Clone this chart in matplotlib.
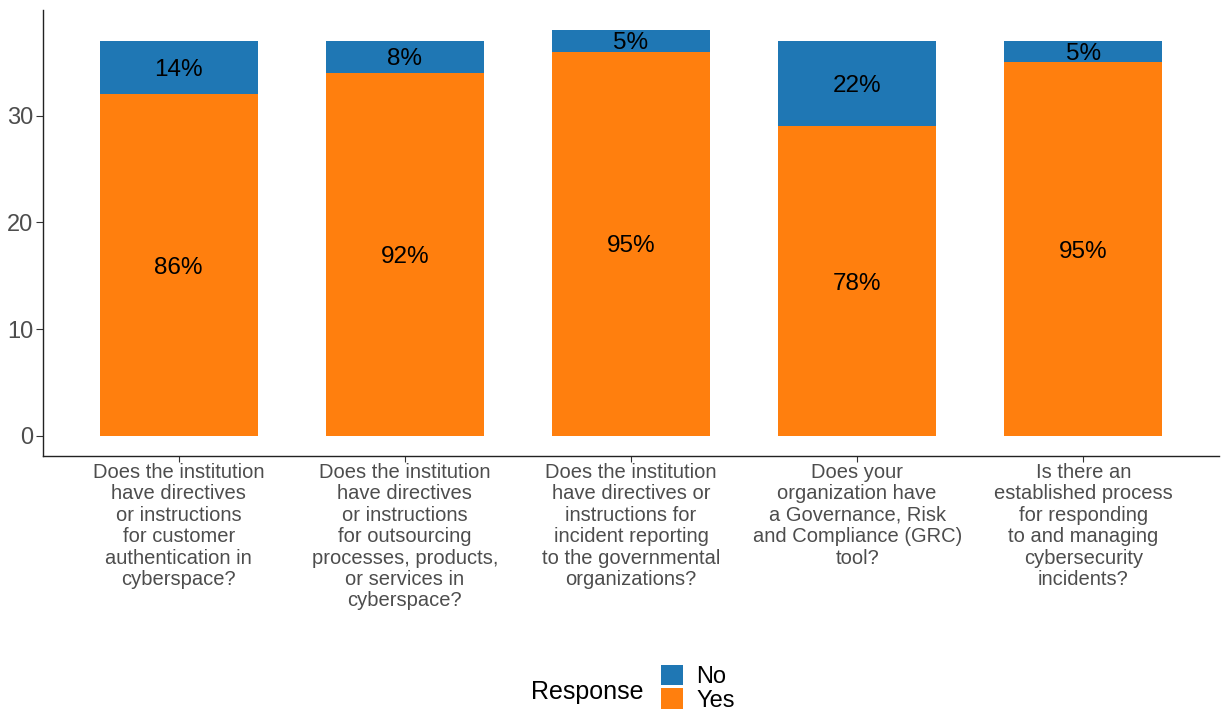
import matplotlib
matplotlib.use("Agg")
import matplotlib.pyplot as plt
from matplotlib.patches import Patch

plt.rcParams["font.family"] = ["Liberation Sans", "DejaVu Sans"]

# survey questions (x categories), already wrapped for the axis
questions = [
    "Does the institution\nhave directives\nor instructions\nfor customer\nauthentication in\ncyberspace?",
    "Does the institution\nhave directives\nor instructions\nfor outsourcing\nprocesses, products,\nor services in\ncyberspace?",
    "Does the institution\nhave directives or\ninstructions for\nincident reporting\nto the governmental\norganizations?",
    "Does your\norganization have\na Governance, Risk\nand Compliance (GRC)\ntool?",
    "Is there an\nestablished process\nfor responding\nto and managing\ncybersecurity\nincidents?",
]
yes_counts = [32, 34, 36, 29, 35]
no_counts = [5, 3, 2, 8, 2]
yes_color = "#FF7F0E"
no_color = "#1F77B4"

fig = plt.figure(figsize=(12.21, 7.13), dpi=100)
ax = fig.add_axes([43 / 1221, 257 / 713, 1176 / 1221, 446 / 713])

x = list(range(1, len(questions) + 1))
ax.bar(x, yes_counts, width=0.7, color=yes_color)
ax.bar(x, no_counts, width=0.7, bottom=yes_counts, color=no_color)

for xi, y_n, n_n in zip(x, yes_counts, no_counts):
    total = y_n + n_n
    ax.text(xi, y_n / 2, f"{round(100 * y_n / total)}%", ha="center",
            va="center_baseline", fontsize=17.5, color="black")
    ax.text(xi, y_n + n_n / 2, f"{round(100 * n_n / total)}%", ha="center",
            va="center_baseline", fontsize=17.5, color="black")

ax.set_xlim(0.4, 5.6)
ax.set_ylim(-1.9, 39.9)
ax.set_yticks([0, 10, 20, 30])
ax.set_xticks(x)
ax.set_xticklabels(questions, fontsize=14.5, color="#4D4D4D", linespacing=1.16,
                   va="top")
ax.tick_params(axis="y", labelsize=17, labelcolor="#4D4D4D", length=5, width=0.8,
               color="#333333", pad=2)
ax.tick_params(axis="x", length=4, width=0.8, color="#333333", pad=1)
for side in ("top", "right"):
    ax.spines[side].set_visible(False)
for side in ("left", "bottom"):
    ax.spines[side].set_color("#222222")
    ax.spines[side].set_linewidth(1.0)

# legend: title on the left, keys stacked on the right
fig.text(531 / 1221, 1 - 692 / 713, "Response", fontsize=18, va="center", ha="left")
handles = [Patch(facecolor=no_color, label="No"), Patch(facecolor=yes_color, label="Yes")]
fig.legend(handles=handles, loc="upper left", bbox_to_anchor=(661 / 1221, 1 - 665 / 713),
           frameon=False, fontsize=17, handlelength=0.95, handleheight=0.95,
           labelspacing=0.0, handletextpad=0.55, borderpad=0.0, borderaxespad=0.0)

fig.savefig("out.png", dpi=100)
